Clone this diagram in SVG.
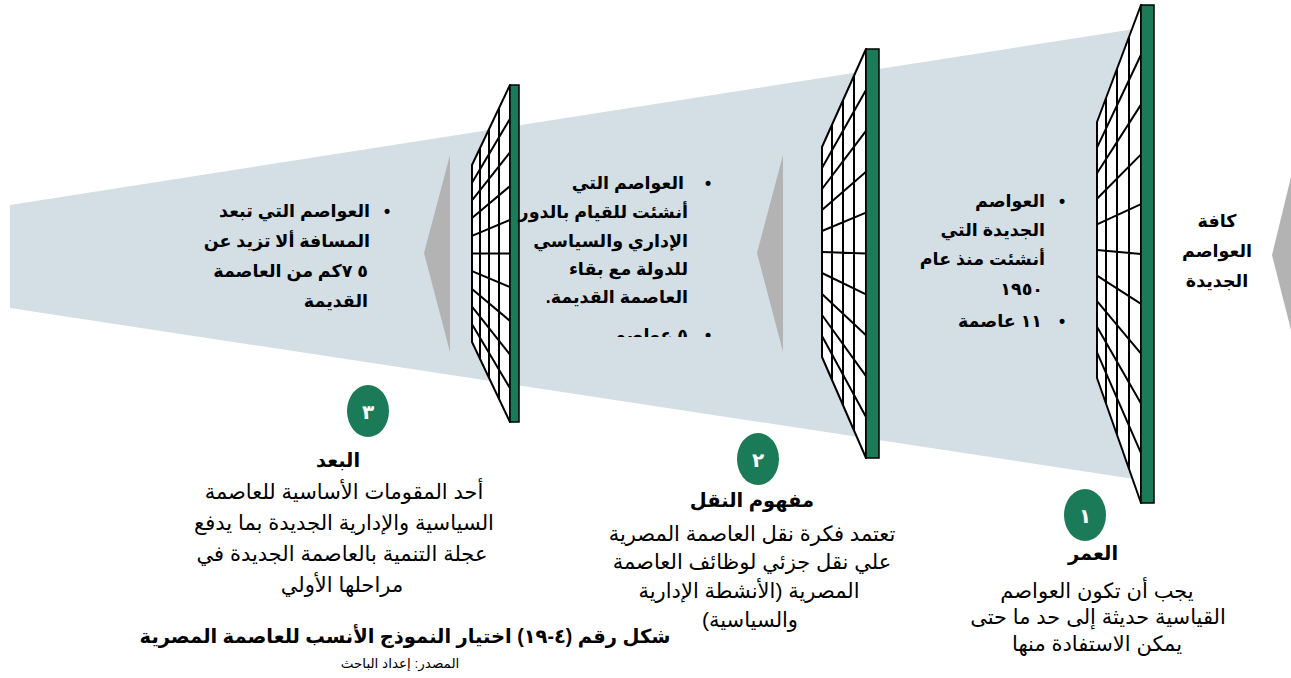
<svg xmlns="http://www.w3.org/2000/svg" width="1291" height="678" viewBox="0 0 1291 678">
<defs>
<style>
.band{fill:#D3DFE5}
.arrow{fill:#B3B3B3}
.grid{fill:#FFFFFF;stroke:#000;stroke-width:2;stroke-linejoin:round}
.gl{stroke:#000;stroke-width:2;fill:none}
.bar{fill:#1B7B58;stroke:#000;stroke-width:1.5}
.num{fill:#1B7B58}
.t{font-family:"Liberation Sans","DejaVu Sans",sans-serif;fill:#000}
.b{font-weight:bold;font-size:17.5px}
.h{font-weight:bold;font-size:19.5px}
.r{font-size:21px}
.n{font-weight:bold;font-size:20px;fill:#FFFFFF}
</style>
<clipPath id="clip2"><rect x="500" y="150" width="240" height="187"/></clipPath>
</defs>
<rect width="1291" height="678" fill="#FFFFFF"/>
<polygon class="band" points="10,205 1141,28 1141,480 10,308"/>

<g id="connectors">
<polygon class="arrow" points="450,155 450,352 424,253"/>
<polygon class="arrow" points="783,155 783,352 757,253"/>
<polygon class="arrow" points="1291,177 1291,330 1272,255"/>
</g>

<g id="grid3">
<polygon class="grid" points="1097,122 1141,5 1141,503 1097,378"/>
<path class="gl" d="M1097,147.6L1141,54.8M1097,173.2L1141,104.6M1097,198.8L1141,154.4M1097,224.4L1141,204.2M1097,250L1141,254M1097,275.6L1141,303.8M1097,301.2L1141,353.6M1097,326.8L1141,403.4M1097,352.4L1141,453.2M1106,98.1V403.6M1117,68.8V434.8M1129,36.9V468.9"/>
<rect class="bar" x="1141" y="5" width="13" height="498"/>
</g>

<g id="grid2">
<polygon class="grid" points="822,147 866,49 866,458 822,357"/>
<path class="gl" d="M822,168L866,89.9M822,189L866,130.8M822,210L866,171.7M822,231L866,212.6M822,252L866,253.5M822,273L866,294.4M822,294L866,335.3M822,315L866,376.2M822,336L866,417.1M832,124.7V380M843,100.2V405.2M854,75.7V430.4"/>
<rect class="bar" x="866" y="49" width="13" height="409"/>
</g>

<g id="grid1">
<polygon class="grid" points="472,165 510,85 510,422 472,342"/>
<path class="gl" d="M472,182.7L510,118.7M472,200.4L510,152.4M472,218.1L510,186.1M472,235.8L510,219.8M472,253.5L510,253.5M472,271.2L510,287.2M472,288.9L510,320.9M472,306.6L510,354.6M472,324.3L510,388.3M480,148.2V358.8M489,129.2V377.8M499,108.2V398.8"/>
<rect class="bar" x="510" y="85" width="9" height="337"/>
</g>

<g id="label-all">
<text class="t b" x="1217" y="227" text-anchor="middle" direction="rtl">كافة</text>
<text class="t b" x="1217" y="257" text-anchor="middle" direction="rtl">العواصم</text>
<text class="t b" x="1217" y="287" text-anchor="middle" direction="rtl">الجديدة</text>
</g>

<g id="box3">
<text class="t b" x="1062" y="207" text-anchor="middle">•</text>
<text class="t b" x="1045" y="207" text-anchor="start" direction="rtl">العواصم</text>
<text class="t b" x="1045" y="236" text-anchor="start" direction="rtl">الجديدة التي</text>
<text class="t b" x="1045" y="265" text-anchor="start" direction="rtl">أنشئت منذ عام</text>
<text class="t b" x="1043" y="295" text-anchor="start" direction="rtl">١٩٥٠</text>
<text class="t b" x="1062" y="327" text-anchor="middle">•</text>
<text class="t b" x="1042" y="327" text-anchor="start" direction="rtl">١١ عاصمة</text>
</g>

<g id="box2">
<text class="t b" x="708" y="189" text-anchor="middle">•</text>
<text class="t b" x="684" y="189" text-anchor="start" direction="rtl">العواصم التي</text>
<text class="t b" x="688" y="218" text-anchor="start" direction="rtl">أنشئت للقيام بالدور</text>
<text class="t b" x="688" y="247" text-anchor="start" direction="rtl">الإداري والسياسي</text>
<text class="t b" x="688" y="275" text-anchor="start" direction="rtl">للدولة مع بقاء</text>
<text class="t b" x="688" y="303" text-anchor="start" direction="rtl">العاصمة القديمة.</text>
<g clip-path="url(#clip2)">
<text class="t b" x="708" y="341" text-anchor="middle">•</text>
<text class="t b" x="688" y="341" text-anchor="start" direction="rtl">٥ عواصم</text>
</g>
</g>

<g id="box1">
<text class="t b" x="387" y="217" text-anchor="middle">•</text>
<text class="t b" x="370" y="217" text-anchor="start" direction="rtl">العواصم التي تبعد</text>
<text class="t b" x="370" y="247" text-anchor="start" direction="rtl">المسافة ألا تزيد عن</text>
<text class="t b" x="368" y="277" text-anchor="start" direction="rtl">٥ ٧كم من العاصمة</text>
<text class="t b" x="368" y="307" text-anchor="start" direction="rtl">القديمة</text>
</g>

<g id="step1">
<ellipse class="num" cx="1085" cy="515" rx="21" ry="26"/>
<text class="t n" x="1085" y="523" text-anchor="middle">١</text>
<text class="t h" x="1093" y="560" text-anchor="middle" direction="rtl">العمر</text>
<text class="t r" x="1097" y="598" text-anchor="middle" direction="rtl">يجب أن تكون العواصم</text>
<text class="t r" x="1098" y="624" text-anchor="middle" direction="rtl">القياسية حديثة إلى حد ما حتى</text>
<text class="t r" x="1097" y="651" text-anchor="middle" direction="rtl">يمكن الاستفادة منها</text>
</g>

<g id="step2">
<ellipse class="num" cx="758" cy="459" rx="21" ry="26"/>
<text class="t n" x="758" y="467" text-anchor="middle">٢</text>
<text class="t h" x="752" y="507" text-anchor="middle" direction="rtl">مفهوم النقل</text>
<text class="t r" x="752" y="541" text-anchor="middle" direction="rtl">تعتمد فكرة نقل العاصمة المصرية</text>
<text class="t r" x="752" y="569" text-anchor="middle" direction="rtl">علي نقل جزئي لوظائف العاصمة</text>
<text class="t r" x="749" y="598" text-anchor="middle" direction="rtl">المصرية (الأنشطة الإدارية</text>
<text class="t r" x="750" y="627" text-anchor="middle" direction="rtl">والسياسية)</text>
</g>

<g id="step3">
<ellipse class="num" cx="368" cy="411" rx="21" ry="26"/>
<text class="t n" x="368" y="419" text-anchor="middle">٣</text>
<text class="t h" x="338" y="467" text-anchor="middle" direction="rtl">البعد</text>
<text class="t r" x="344" y="499" text-anchor="middle" direction="rtl">أحد المقومات الأساسية للعاصمة</text>
<text class="t r" x="344" y="530" text-anchor="middle" direction="rtl">السياسية والإدارية الجديدة بما يدفع</text>
<text class="t r" x="342" y="561" text-anchor="middle" direction="rtl">عجلة التنمية بالعاصمة الجديدة في</text>
<text class="t r" x="342" y="592" text-anchor="middle" direction="rtl">مراحلها الأولي</text>
</g>

<g id="caption">
<text class="t" x="405" y="643" text-anchor="middle" direction="rtl" font-weight="bold" font-size="19.5">شكل رقم (٤-١٩) اختيار النموذج الأنسب للعاصمة المصرية</text>
<text class="t" x="400" y="668" text-anchor="middle" direction="rtl" font-size="13.5">المصدر: إعداد الباحث</text>
</g>
</svg>
